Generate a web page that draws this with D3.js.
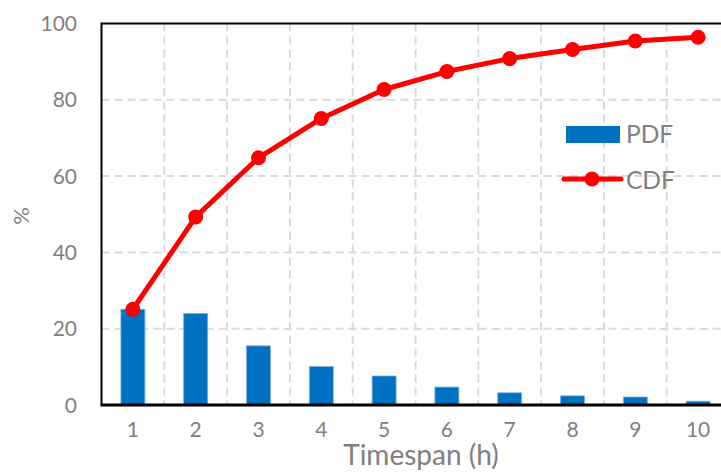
<!DOCTYPE html>
<html><head><meta charset="utf-8">
<script src="https://cdn.jsdelivr.net/npm/d3@7"></script>
<style>html,body{margin:0;padding:0;background:#fff;overflow:hidden}</style>
</head><body><svg id="c" width="721" height="472"></svg>
<script>
const categories = ["1","2","3","4","5","6","7","8","9","10"];
const pdfValues = [25.1, 24.0, 15.5, 10.1, 7.6, 4.7, 3.2, 2.4, 2.1, 1.0];
const cdfValues = [25.1, 49.3, 64.8, 75.1, 82.7, 87.4, 90.8, 93.2, 95.4, 96.4];
const yTicks = [0, 20, 40, 60, 80, 100];
const seriesNames = ["PDF", "CDF"];

const svg = d3.select("#c");
const L = 101.5, T = 23.5, B = 405, R = 729.5;
const font = "Lato, 'Open Sans', sans-serif";
const grey = "#808080";

const x = d3.scaleBand().domain(categories).range([L, R]).paddingInner(0).paddingOuter(0);
const y = d3.scaleLinear().domain([0, 100]).range([B, T]);

const g = svg.append("g");
g.selectAll(".hg").data(yTicks.filter(d => d > 0 && d < 100)).join("line")
  .attr("x1", L).attr("x2", R).attr("y1", d => y(d)).attr("y2", d => y(d))
  .attr("stroke", "#D9D9D9").attr("stroke-width", 2).attr("stroke-dasharray", "8,5");
g.selectAll(".vg").data(categories.slice(1)).join("line")
  .attr("x1", d => x(d)).attr("x2", d => x(d)).attr("y1", T).attr("y2", B)
  .attr("stroke", "#D9D9D9").attr("stroke-width", 2).attr("stroke-dasharray", "8,5");

const bw = 24;
g.selectAll(".bar").data(pdfValues).join("rect")
  .attr("x", (d, i) => x(categories[i]) + x.bandwidth() / 2 - bw / 2)
  .attr("y", d => y(d)).attr("width", bw).attr("height", d => B - y(d))
  .attr("fill", "#0070C0").attr("stroke", "#7FB2DF").attr("stroke-width", 0.8);

g.append("line").attr("x1", L).attr("x2", 721).attr("y1", T).attr("y2", T).attr("stroke", "#000").attr("stroke-width", 2);
g.append("line").attr("x1", L).attr("x2", L).attr("y1", T - 1).attr("y2", B).attr("stroke", "#000").attr("stroke-width", 2);
g.append("line").attr("x1", L - 1).attr("x2", 721).attr("y1", B).attr("y2", B).attr("stroke", "#000").attr("stroke-width", 3);

const line = d3.line().x((d, i) => x(categories[i]) + x.bandwidth() / 2).y(d => y(d));
g.append("path").datum(cdfValues).attr("d", line).attr("fill", "none")
  .attr("stroke", "#FF0000").attr("stroke-width", 5).attr("stroke-linejoin", "round");
g.selectAll(".pt").data(cdfValues).join("circle")
  .attr("cx", (d, i) => x(categories[i]) + x.bandwidth() / 2).attr("cy", d => y(d))
  .attr("r", 7.5).attr("fill", "#FF0000");

g.selectAll(".yt").data(yTicks).join("text")
  .attr("x", 77).attr("y", d => y(d)).attr("dy", "0.36em").attr("text-anchor", "end")
  .attr("font-family", font).attr("font-size", 21).attr("fill", grey).text(d => d);
g.selectAll(".xt").data(categories).join("text")
  .attr("x", d => x(d) + x.bandwidth() / 2).attr("y", 437).attr("text-anchor", "middle")
  .attr("font-family", font).attr("font-size", 21).attr("fill", grey).text(d => d);

svg.append("text").attr("x", 421).attr("y", 465).attr("text-anchor", "middle")
  .attr("font-family", font).attr("font-size", 28).attr("fill", grey).text("Timespan (h)");
svg.append("text").attr("transform", "translate(21,216) rotate(-90)").attr("dy", "0.36em").attr("text-anchor", "middle")
  .attr("font-family", font).attr("font-size", 22).attr("fill", grey).text("%");

svg.append("rect").attr("x", 566).attr("y", 126).attr("width", 54).attr("height", 17).attr("fill", "#0070C0");
svg.append("text").attr("x", 626).attr("y", 134).attr("dy", "0.36em").attr("font-family", font)
  .attr("font-size", 24.5).attr("fill", grey).text(seriesNames[0]);
svg.append("line").attr("x1", 564).attr("x2", 621).attr("y1", 179).attr("y2", 179)
  .attr("stroke", "#FF0000").attr("stroke-width", 5).attr("stroke-linecap", "round");
svg.append("circle").attr("cx", 592).attr("cy", 179).attr("r", 7.5).attr("fill", "#FF0000");
svg.append("text").attr("x", 626).attr("y", 180).attr("dy", "0.36em").attr("font-family", font)
  .attr("font-size", 24.5).attr("fill", grey).text(seriesNames[1]);
</script></body></html>
